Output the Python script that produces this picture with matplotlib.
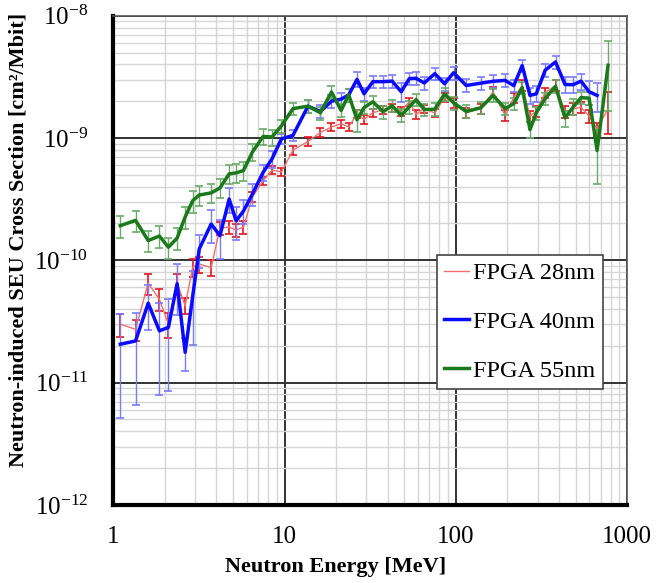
import matplotlib
matplotlib.use("Agg")
import matplotlib.pyplot as plt
from matplotlib.ticker import LogLocator, FixedLocator, NullFormatter
import numpy as np

plt.rcParams['font.family'] = ['Liberation Serif', 'DejaVu Serif']
plt.rcParams['mathtext.fontset'] = 'custom'
plt.rcParams['mathtext.rm'] = 'Liberation Serif'
plt.rcParams['mathtext.it'] = 'Liberation Serif:italic'
plt.rcParams['mathtext.bf'] = 'Liberation Serif:bold'

# Neutron energy bins (MeV)
energy = [1.1, 1.35, 1.6, 1.86, 2.1, 2.36, 2.63, 2.91, 3.18, 3.73,
          4.2, 4.75, 5.22, 5.76, 6.5, 7.5, 8.45, 9.6, 11.2, 13.7,
          16.2, 18.8, 21.4, 23.7, 26.5, 29.1, 32.8, 37.6, 42.5, 48.0,
          53.5, 58.6, 65.4, 75.4, 86.0, 97.0, 115, 140, 165, 194,
          218, 244, 271, 295, 332, 382, 434, 485, 538, 600,
          668, 774]

# SEU cross sections (cm2/Mbit)
fpga28 = [3.0e-11, 2.73e-11, 6.5e-11, 4.81e-11, 3.0e-11, 6.5e-11, 4.25e-11, 8.8e-11, 9.31e-11, 8.72e-11,
          1.84e-10, 1.87e-10, 1.77e-10, 1.87e-10, 3.3e-10, 4.48e-10, 5.47e-10, 5.28e-10, 7.97e-10, 9.36e-10,
          1.11e-9, 1.23e-9, 1.31e-9, 1.23e-9, 1.58e-9, 1.42e-9, 1.61e-9, 1.70e-9, 1.76e-9, 1.66e-9,
          1.98e-9, 1.56e-9, 1.74e-9, 1.60e-9, 2.16e-9, 1.94e-9, 1.61e-9, 1.74e-9, 2.38e-9, 1.53e-9,
          2.14e-9, 2.69e-9, 1.51e-9, 1.66e-9, 2.35e-9, 2.69e-9, 1.64e-9, 1.73e-9, 1.79e-9, 1.51e-9,
          1.19e-9, 1.74e-9]
err28 = [0.22, 0.2, 0.2, 0.2, 0.23, 0.2, 0.15, 0.17, 0.15, 0.15,
         0.12, 0.12, 0.12, 0.12, 0.1, 0.08, 0.08, 0.08, 0.08, 0.08,
         0.08, 0.08, 0.08, 0.08, 0.08, 0.08, 0.08, 0.08, 0.08, 0.08,
         0.08, 0.08, 0.08, 0.08, 0.09, 0.09, 0.09, 0.09, 0.09, 0.1,
         0.1, 0.1, 0.1, 0.1, 0.1, 0.1, 0.11, 0.11, 0.11, 0.12,
         0.12, 0.38]

fpga40 = [2.06e-11, 2.19e-11, 4.46e-11, 2.65e-11, 2.83e-11, 6.44e-11, 1.77e-11, 5.09e-11, 1.24e-10, 1.98e-10,
          1.59e-10, 3.17e-10, 2.10e-10, 2.53e-10, 3.49e-10, 5.24e-10, 6.75e-10, 9.85e-10, 1.05e-9, 1.82e-9,
          1.65e-9, 2.0e-9, 2.08e-9, 2.25e-9, 3.02e-9, 2.30e-9, 2.89e-9, 2.89e-9, 2.92e-9, 2.39e-9,
          3.06e-9, 3.08e-9, 2.82e-9, 3.36e-9, 2.78e-9, 3.42e-9, 2.69e-9, 2.81e-9, 2.91e-9, 2.96e-9,
          2.68e-9, 3.91e-9, 2.23e-9, 2.30e-9, 3.58e-9, 4.19e-9, 2.74e-9, 2.73e-9, 2.92e-9, 2.39e-9,
          2.23e-9]
err40 = [0.75, 0.7, 0.4, 0.7, 0.7, 0.45, 0.3, 0.6, 0.3, 0.3,
         0.35, 0.23, 0.3, 0.22, 0.2, 0.15, 0.15, 0.1, 0.1, 0.12,
         0.12, 0.12, 0.12, 0.12, 0.14, 0.12, 0.12, 0.12, 0.12, 0.18,
         0.12, 0.12, 0.12, 0.12, 0.12, 0.12, 0.12, 0.12, 0.12, 0.12,
         0.12, 0.12, 0.15, 0.15, 0.12, 0.12, 0.15, 0.15, 0.15, 0.22,
         0.27]

fpga55 = [1.92e-10, 2.12e-10, 1.45e-10, 1.58e-10, 1.28e-10, 1.52e-10, 2.26e-10, 3.07e-10, 3.42e-10, 3.56e-10,
          3.91e-10, 5.09e-10, 5.19e-10, 5.42e-10, 7.7e-10, 1.03e-9, 1.02e-9, 1.26e-9, 1.74e-9, 1.82e-9,
          1.61e-9, 2.38e-9, 1.68e-9, 2.26e-9, 1.41e-9, 1.77e-9, 1.98e-9, 1.64e-9, 1.84e-9, 1.53e-9,
          1.80e-9, 2.06e-9, 1.71e-9, 1.72e-9, 2.30e-9, 1.94e-9, 1.65e-9, 1.77e-9, 2.23e-9, 1.74e-9,
          1.91e-9, 2.58e-9, 1.17e-9, 1.61e-9, 2.10e-9, 2.65e-9, 1.46e-9, 1.80e-9, 2.14e-9, 2.12e-9,
          7.9e-10, 3.93e-9]
err55 = [0.2, 0.2, 0.2, 0.2, 0.2, 0.2, 0.2, 0.2, 0.18, 0.18,
         0.18, 0.18, 0.18, 0.18, 0.15, 0.15, 0.15, 0.12, 0.12, 0.12,
         0.12, 0.12, 0.12, 0.12, 0.2, 0.12, 0.12, 0.12, 0.12, 0.12,
         0.12, 0.12, 0.12, 0.12, 0.12, 0.12, 0.12, 0.12, 0.12, 0.12,
         0.12, 0.12, 0.15, 0.12, 0.12, 0.12, 0.15, 0.15, 0.12, 0.12,
         0.47, 0.58]

series = [
    ('FPGA 28nm', fpga28, err28, '#f07070', '#e8141e', 1.0),
    ('FPGA 40nm', fpga40, err40, '#0a0aff', '#7a7aff', 2.5),
    ('FPGA 55nm', fpga55, err55, '#1a7a1a', '#6aaa6a', 2.5),
]

fig = plt.figure(figsize=(6.7, 5.83), dpi=100)
ax = fig.add_axes([0.169, 0.134, 0.767, 0.839])

for name, vals, rel, lc, ec, lw in series:
    x = energy[:len(vals)]
    v = np.array(vals)
    e = v * np.array(rel)
    ax.errorbar(x, v, yerr=e, color=lc, ecolor=ec, elinewidth=1.2 if lw < 2 else 1.0,
                capsize=3, capthick=1.2, lw=lw, label=name, zorder=3 if lw < 2 else 4)

ax.set_xscale('log')
ax.set_yscale('log')
ax.set_xlim(1, 1000)
ax.set_ylim(1e-12, 1e-8)

ax.xaxis.set_major_locator(FixedLocator([1, 10, 100, 1000]))
ax.set_xticklabels(['1', '10', '100', '1000'])
ax.xaxis.set_minor_locator(LogLocator(base=10, subs=np.arange(2, 10)))
ax.xaxis.set_minor_formatter(NullFormatter())
ax.yaxis.set_major_locator(FixedLocator([1e-12, 1e-11, 1e-10, 1e-9, 1e-8]))
ax.set_yticklabels([r'$10^{-12}$', r'$10^{-11}$', r'$10^{-10}$', r'$10^{-9}$', r'$10^{-8}$'])
ax.yaxis.set_minor_locator(LogLocator(base=10, subs=np.arange(2, 10)))
ax.yaxis.set_minor_formatter(NullFormatter())

ax.grid(True, which='major', color='#333333', lw=1.4, zorder=1)
ax.grid(True, which='minor', color='#d6d6d6', lw=1.0, zorder=0)
ax.set_axisbelow(True)

ax.tick_params(which='both', length=0)
ax.tick_params(axis='x', labelsize=18, pad=15)
ax.tick_params(axis='y', labelsize=18, pad=18)

for side in ['left', 'bottom']:
    ax.spines[side].set_linewidth(3)
for side in ['top', 'right']:
    ax.spines[side].set_linewidth(1.2)
    ax.spines[side].set_color('#555555')

ax.set_xlabel('Neutron Energy [MeV]', fontsize=16, fontweight='bold')
ax.xaxis.set_label_coords(0.433, -0.106)
ax.set_ylabel('Neutron-induced SEU Cross Section [cm\u00b2/Mbit]', fontsize=16,
              fontweight='bold')
ax.yaxis.set_label_coords(-0.164, 0.542)

handles, labels = ax.get_legend_handles_labels()
handles = [h[0] for h in handles]
leg = ax.legend(handles, labels, loc='upper left', bbox_to_anchor=(0.63, 0.511),
                fontsize=17.5, frameon=True, fancybox=False, edgecolor='#444444',
                handlelength=1.0, handletextpad=0.2, labelspacing=1.1,
                borderpad=0.3, borderaxespad=0, framealpha=1)
leg.get_frame().set_linewidth(1.2)

fig.savefig('out.png', dpi=100)
